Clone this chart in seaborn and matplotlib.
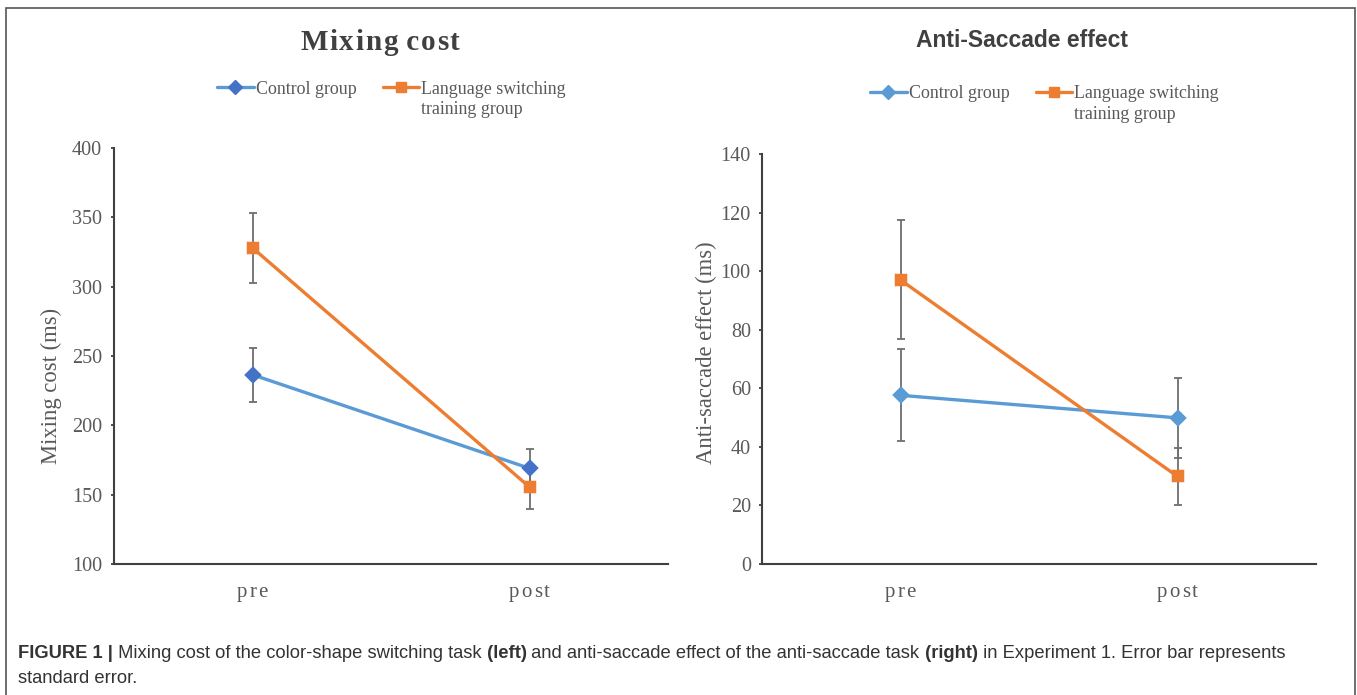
import matplotlib
matplotlib.use("Agg")
import matplotlib.pyplot as plt
from matplotlib.patches import Rectangle
from matplotlib.lines import Line2D
from matplotlib.text import Annotation
from matplotlib.transforms import IdentityTransform, Bbox
import seaborn as sns
import pandas as pd

# ---- data ----
sessions = ["pre", "post"]
groups = ["Control group", "Language switching\ntraining group"]

mix_control = [236.5, 169.0]
mix_control_se = [19.5, 14.0]
mix_training = [328.0, 155.5]
mix_training_se = [25.0, 15.5]

anti_control = [57.6, 49.9]
anti_control_se = [15.7, 13.7]
anti_training = [97.0, 29.9]
anti_training_se = [20.3, 9.7]

mix_ticks = [100, 150, 200, 250, 300, 350, 400]
anti_ticks = [0, 20, 40, 60, 80, 100, 120, 140]

# ---- style ----
sns.set_theme(style="white")
plt.rcParams["font.family"] = ["Liberation Serif", "DejaVu Serif"]

LINE_BLUE = "#5B9BD5"
DARK_BLUE = "#4472C4"
ORANGE = "#ED7D31"
ERR_GREY = "#6E6E6E"
AXIS_GREY = "#404040"
TEXT_GREY = "#595959"

W, H = 1357, 695
fig = plt.figure(figsize=(W / 100, H / 100), dpi=100)

tracked_groups = []


def tracked_text(s, cx, baseline, track, **kw):
    """Text with extra letter spacing, centred on cx (pixels from the left),
    baseline given in pixels from the top of the figure."""
    tokens, pending = [], ""
    for ch in s:
        if ch == " ":
            pending += ch
        else:
            tokens.append(pending + ch)
            pending = ""
    first = fig.text(cx, H - baseline, tokens[0], transform=IdentityTransform(),
                     ha="left", va="baseline", **kw)
    parts = [first]
    for tok in tokens[1:]:
        a = Annotation(tok, xy=(1, 0), xycoords=parts[-1],
                       xytext=(track * 72 / fig.dpi, 0),
                       textcoords="offset points", ha="left", va="bottom",
                       annotation_clip=False, **kw)
        fig.add_artist(a)
        parts.append(a)
    tracked_groups.append((parts, cx, H - baseline))
    return parts


def panel(rect, control, control_se, training, training_se, yticks, ylabel,
          ylabel_xy, tick_pad, legend_anchor, control_marker_color):
    ax = fig.add_axes(rect)
    df = pd.DataFrame({
        "session": sessions * 2,
        "group": [groups[0]] * 2 + [groups[1]] * 2,
        "value": list(control) + list(training),
    })
    xpos = range(len(sessions))
    for vals, se in ((control, control_se), (training, training_se)):
        ax.errorbar(xpos, vals, yerr=se, fmt="none", ecolor=ERR_GREY,
                    elinewidth=1.3, capsize=3.0, capthick=1.3, zorder=2)
    sns.pointplot(data=df, x="session", y="value", hue="group",
                  order=sessions, hue_order=groups,
                  palette=[LINE_BLUE, ORANGE], markers=["D", "s"],
                  errorbar=None, ax=ax, legend=False,
                  linewidth=2.4, markersize=7.5)
    for ln in ax.lines:
        ln.set_zorder(3)
        if ln.get_marker() == "D":
            ln.set_markerfacecolor(control_marker_color)
            ln.set_markeredgecolor(control_marker_color)
            ln.set_markersize(7)

    ax.set_xlim(-0.5, 1.5)
    ax.set_ylim(yticks[0], yticks[-1])
    ax.set_yticks(yticks)
    ax.set_xticks(list(xpos))
    ax.set_xticklabels([])
    ax.set_xticks([0.5, 1.5], minor=True)
    ax.tick_params(axis="x", which="major", length=0)
    ax.tick_params(axis="x", which="minor", direction="in", length=4.5,
                   width=1.3, color=AXIS_GREY)
    ax.tick_params(axis="y", direction="out", length=2.5, width=1.3,
                   color=AXIS_GREY, labelsize=14.5, labelcolor=TEXT_GREY,
                   pad=tick_pad, left=True)
    ax.set_xlabel("")
    ax.set_ylabel(ylabel, fontsize=16.3, color=TEXT_GREY)
    ax.yaxis.set_label_coords(*ylabel_xy)
    for side in ("top", "right"):
        ax.spines[side].set_visible(False)
    for side in ("left", "bottom"):
        ax.spines[side].set_color(AXIS_GREY)
        ax.spines[side].set_linewidth(1.5)

    # category labels under the axis, slightly letter-spaced
    for i, s in enumerate(sessions):
        px = ax.transData.transform((i, 0))[0]
        tracked_text(s, px, 597, 2.0, fontsize=15, color=TEXT_GREY,
                     family=["Liberation Serif", "DejaVu Serif"])

    handles = [
        Line2D([], [], color=LINE_BLUE, lw=2.4, marker="D", markersize=7,
               markerfacecolor=control_marker_color,
               markeredgecolor=control_marker_color),
        Line2D([], [], color=ORANGE, lw=2.4, marker="s", markersize=7.5),
    ]
    labels = [g.split("\n")[0] for g in groups]
    leg = fig.legend(handles, labels, loc="center left",
                     bbox_to_anchor=legend_anchor, ncol=2, frameon=False,
                     fontsize=12.9, handlelength=2.05, handletextpad=0.12,
                     columnspacing=1.45, labelcolor=TEXT_GREY,
                     borderaxespad=0, borderpad=0)
    second_line = groups[1].split("\n")[1]
    fig.add_artist(Annotation(second_line, xy=(0, 0),
                              xycoords=leg.get_texts()[1],
                              xytext=(0, -2.5), textcoords="offset points",
                              ha="left", va="top", fontsize=12.9,
                              color=TEXT_GREY, annotation_clip=False))
    return ax


ax1 = panel([114 / W, 1 - 564 / H, 554 / W, 416 / H],
            mix_control, mix_control_se, mix_training, mix_training_se,
            mix_ticks, "Mixing cost (ms)", (-0.094, 0.428), 6.2,
            (217 / W, 1 - 89 / H), DARK_BLUE)

ax2 = panel([762 / W, 1 - 564 / H, 554 / W, 410 / H],
            anti_control, anti_control_se, anti_training, anti_training_se,
            anti_ticks, "Anti-saccade effect (ms)", (-0.081, 0.515), 5.6,
            (870 / W, 1 - 94 / H), LINE_BLUE)

# panel titles
tracked_text("Mixing cost", 380, 50, 1.6, fontsize=21, fontweight="bold",
             color="#404040", family=["Liberation Serif", "DejaVu Serif"])
fig.text(1022 / W, 1 - 47 / H, "Anti-Saccade effect", ha="center",
         va="baseline", fontsize=16.5, fontweight="bold", color="#404040",
         family=["Liberation Sans", "DejaVu Sans"])

# frame around the figure
fig.patches.append(Rectangle((6 / W, -0.05), 1349 / W, 1.05 - 8 / H,
                             transform=fig.transFigure, fill=False,
                             edgecolor="#555555", lw=1.2))

# caption with bold runs (each run carries its own leading space)
cap_font = dict(family=["Liberation Sans", "DejaVu Sans"], fontsize=13.2,
                color="#333333")
pieces = [
    ("FIGURE 1 |", "bold"),
    (" Mixing cost of the color-shape switching task", "normal"),
    (" (left)", "bold"),
    (" and anti-saccade effect of the anti-saccade task", "normal"),
    (" (right)", "bold"),
    (" in Experiment 1. Error bar represents", "normal"),
]
prev = fig.text(18 / W, 1 - 658 / H, pieces[0][0], va="baseline",
                ha="left", fontweight=pieces[0][1], **cap_font)
for txt, weight in pieces[1:]:
    prev = Annotation(txt, xy=(1, 0), xycoords=prev, va="bottom", ha="left",
                      fontweight=weight, annotation_clip=False, **cap_font)
    fig.add_artist(prev)
fig.text(18 / W, 1 - 683 / H, "standard error.", va="baseline",
         ha="left", **cap_font)

# centre the letter-spaced texts on their anchor points
fig.canvas.draw()
renderer = fig.canvas.get_renderer()
for parts, cx, y in tracked_groups:
    box = Bbox.union([p.get_window_extent(renderer) for p in parts])
    x0 = parts[0].get_position()[0]
    parts[0].set_position((x0 - box.width / 2, y))

fig.savefig("out.png", dpi=100)
